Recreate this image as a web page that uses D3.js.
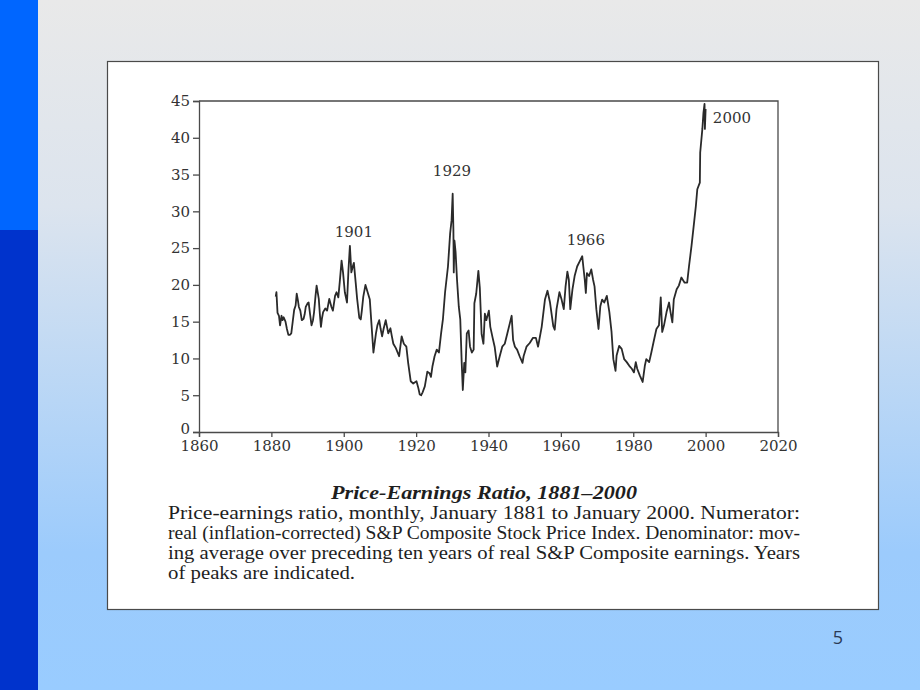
<!DOCTYPE html>
<html>
<head>
<meta charset="utf-8">
<script src="https://cdn.jsdelivr.net/npm/d3@7"></script>
<style>
  html, body { margin: 0; padding: 0; overflow: hidden; }
  svg { display: block; }
</style>
</head>
<body>
<svg id="chart" width="920" height="690"></svg>
<script>
// ---------- data ----------
const years = [
  1881.2,1881.4,1881.7,1882.1,1882.4,1882.8,1883.1,1883.4,1883.9,1884.3,1884.7,1885.1,1885.5,1885.9,
  1886.3,1886.7,1887.0,1887.3,1887.6,1888.0,1888.4,1888.9,1889.2,1889.5,1890.0,1890.3,1890.7,1891.1,
  1891.5,1891.8,1892.2,1892.5,1893.1,1893.4,1893.7,1894.0,1894.3,1894.9,1895.4,1896.0,1896.6,1897.0,
  1897.6,1898.0,1898.5,1898.9,1899.4,1899.8,1900.3,1900.9,1901.3,1901.7,1902.1,1902.5,1902.8,1903.3,
  1903.7,1904.3,1904.7,1905.0,1905.4,1906.0,1906.6,1907.2,1907.7,1908.2,1908.9,1909.3,1909.8,1910.2,
  1910.6,1911.0,1911.6,1912.3,1912.9,1913.3,1913.7,1914.4,1915.3,1916.0,1916.6,1917.3,1917.8,1918.5,
  1919.2,1920.1,1920.6,1921.0,1921.4,1921.8,1922.4,1923.1,1923.7,1924.1,1924.5,1925.1,1925.7,1926.3,
  1926.9,1927.4,1928.0,1928.8,1929.4,1929.8,1930.1,1930.3,1930.4,1930.6,1930.9,1931.3,1931.8,1932.2,
  1932.6,1932.9,1933.3,1933.6,1934.0,1934.5,1934.9,1935.4,1935.9,1936.1,1936.6,1937.2,1937.6,1938.1,
  1938.6,1939.0,1939.4,1940.1,1940.5,1941.1,1941.7,1942.4,1943.1,1943.8,1944.5,1945.2,1945.9,1946.4,
  1946.8,1947.3,1947.9,1948.6,1949.4,1949.7,1950.5,1951.4,1952.3,1953.1,1953.7,1954.7,1955.6,1956.3,
  1957.0,1957.9,1958.3,1958.8,1959.6,1960.2,1960.8,1961.3,1961.8,1962.2,1962.6,1963.2,1963.8,1964.5,
  1965.2,1965.9,1966.2,1966.6,1966.9,1967.2,1967.8,1968.4,1968.9,1969.3,1969.8,1970.4,1970.9,1971.4,
  1972.0,1972.7,1973.4,1974.0,1974.5,1975.1,1975.4,1976.1,1976.8,1977.5,1978.2,1978.9,1979.6,1980.2,
  1980.7,1981.1,1981.8,1982.6,1983.2,1983.6,1984.4,1985.0,1985.6,1986.4,1987.1,1987.6,1988.0,1988.5,
  1989.2,1989.9,1990.3,1990.8,1991.2,1992.0,1992.6,1993.3,1994.2,1994.9,1995.4,1996.1,1996.7,1997.3,
  1997.7,1998.4,1998.5,1999.1,1999.4,1999.7,1999.8,2000.0
];
const peRatio = [
  18.4,19.0,16.2,15.8,14.5,15.8,15.2,15.6,15.0,14.0,13.2,13.2,13.4,15.0,
  16.6,17.2,18.8,18.0,17.0,16.5,15.2,15.4,16.0,17.0,17.5,17.6,16.0,14.5,
  15.2,16.3,18.5,19.9,18.1,16.0,14.3,15.5,16.3,16.8,16.5,18.1,17.0,16.5,
  18.5,19.0,18.3,20.4,23.3,21.7,19.0,17.6,22.0,25.3,21.7,22.5,23.0,20.3,
  18.1,15.5,15.3,16.5,18.4,20.0,19.0,18.0,14.4,10.8,13.4,14.5,15.2,14.0,
  13.0,14.0,15.2,13.4,14.1,13.0,12.0,11.4,10.3,13.0,12.0,11.6,9.4,6.9,
  6.6,6.9,6.0,5.1,5.0,5.4,6.2,8.2,8.0,7.5,8.9,10.3,11.2,10.8,
  13.4,15.3,19.0,22.5,27.0,28.8,32.4,27.5,21.7,26.0,24.5,20.7,17.0,15.3,
  9.4,5.7,9.4,8.1,13.4,13.8,11.6,10.8,11.2,17.5,18.8,21.9,19.6,13.3,
  12.0,16.1,15.2,16.5,14.3,12.9,11.6,8.9,10.3,11.6,12.0,13.4,14.8,15.8,
  12.5,11.6,11.2,10.3,9.4,10.3,11.6,12.1,12.8,12.8,11.6,14.3,18.0,19.2,
  17.6,14.4,13.9,16.7,19.0,18.0,16.7,19.8,21.8,20.7,16.7,19.4,21.2,22.5,
  23.2,23.9,22.5,20.7,18.9,21.6,21.2,22.1,20.7,19.8,16.7,14.0,17.1,18.0,
  17.6,18.5,16.3,13.6,9.9,8.3,10.4,11.7,11.3,9.9,9.5,9.0,8.6,8.1,
  9.5,8.6,7.7,6.8,9.0,9.9,9.5,10.8,12.2,14.0,14.5,18.3,13.6,14.5,
  16.3,17.6,16.3,14.9,18.0,19.4,19.9,21.0,20.3,20.3,22.5,25.3,28.0,30.7,
  33.0,33.9,38.0,41.2,43.4,44.6,41.2,43.9
];
const xTicks = [1860, 1880, 1900, 1920, 1940, 1960, 1980, 2000, 2020];
const yTicks = [0, 5, 10, 15, 20, 25, 30, 35, 40, 45];
const peakLabels = ["1901", "1929", "1966", "2000"];
const peakLabelYears = [1902.8, 1929.9, 1966.9, 2002.0];
const peakLabelValues = [26.5, 34.8, 25.4, 42.0];
const peakLabelAnchor = ["middle", "middle", "middle", "start"];
const captionTitle = "Price-Earnings Ratio, 1881\u20132000";
const captionLines = [
  "Price-earnings ratio, monthly, January 1881 to January 2000. Numerator:",
  "real (inflation-corrected) S&P Composite Stock Price Index. Denominator: mov-",
  "ing average over preceding ten years of real S&P Composite earnings. Years",
  "of peaks are indicated."
];
const pageNumber = "5";

// ---------- drawing ----------
const svg = d3.select("#chart");
const W = 920, H = 690;

const defs = svg.append("defs");
const grad = defs.append("linearGradient").attr("id", "bg").attr("x1", 0).attr("y1", 0).attr("x2", 0).attr("y2", 1);
grad.append("stop").attr("offset", "0%").attr("stop-color", "#e9e9e9");
grad.append("stop").attr("offset", "30%").attr("stop-color", "#dce4ee");
grad.append("stop").attr("offset", "80%").attr("stop-color", "#9ccbfc");
grad.append("stop").attr("offset", "100%").attr("stop-color", "#99ccff");

svg.append("rect").attr("x", 0).attr("y", 0).attr("width", W).attr("height", H).attr("fill", "url(#bg)");
svg.append("rect").attr("x", 0).attr("y", 0).attr("width", 38).attr("height", 230).attr("fill", "#0066ff");
svg.append("rect").attr("x", 0).attr("y", 230).attr("width", 38).attr("height", H - 230).attr("fill", "#0033cc");

// white figure box
svg.append("rect").attr("x", 107.5).attr("y", 61.5).attr("width", 771).attr("height", 548)
  .attr("fill", "#ffffff").attr("stroke", "#4a4a4a").attr("stroke-width", 1.2);

const plot = { left: 199, right: 778, top: 101, bottom: 432 };
const x = d3.scaleLinear().domain([1860, 2020]).range([plot.left, plot.right]);
const y = d3.scaleLinear().domain([0, 45]).range([plot.bottom, plot.top]);

const axisColor = "#4a4a4a";
const tickFont = "'DejaVu Serif', serif";
const tickSize = "15px";

// frame top & right
svg.append("path")
  .attr("d", `M${plot.left},${plot.top}H${plot.right}V${plot.bottom}`)
  .attr("fill", "none").attr("stroke", axisColor).attr("stroke-width", 1.3);

const gx = svg.append("g").attr("transform", `translate(0,${plot.bottom})`)
  .call(d3.axisBottom(x).tickValues(xTicks).tickFormat(d3.format("d")).tickSize(5).tickPadding(2));
const gy = svg.append("g").attr("transform", `translate(${plot.left},0)`)
  .call(d3.axisLeft(y).tickValues(yTicks).tickFormat(d3.format("d")).tickSize(6).tickPadding(3));
[gx, gy].forEach(g => {
  g.select(".domain").attr("stroke", axisColor).attr("stroke-width", 1.3);
  g.selectAll(".tick line").attr("stroke", axisColor).attr("stroke-width", 1.3);
  g.selectAll(".tick text").attr("fill", "#333").style("font-family", tickFont).style("font-size", tickSize);
});
// lift the "0" label slightly so it clears the "1860" label below it
gy.selectAll(".tick").filter(d => d === 0).select("text").attr("dy", "0.12em");
gx.selectAll(".tick text").attr("dy", "0.78em");

// series
const data = years.map((yr, i) => ({ yr, v: peRatio[i] }));
const line = d3.line().x(d => x(d.yr)).y(d => y(d.v)).curve(d3.curveLinear);
svg.append("path").datum(data).attr("d", line)
  .attr("fill", "none").attr("stroke", "#2a2a2a").attr("stroke-width", 1.8).attr("stroke-linejoin", "round");

// peak labels
svg.append("g").selectAll("text").data(peakLabels).join("text")
  .attr("x", (d, i) => x(peakLabelYears[i]))
  .attr("y", (d, i) => y(peakLabelValues[i]))
  .attr("text-anchor", (d, i) => peakLabelAnchor[i])
  .attr("fill", "#333")
  .style("font-family", tickFont).style("font-size", tickSize)
  .text(d => d);

// caption
svg.append("text").attr("x", 331).attr("y", 499)
  .attr("fill", "#1e1e1e")
  .attr("textLength", 306).attr("lengthAdjust", "spacingAndGlyphs")
  .style("font-family", "'Liberation Serif', serif").style("font-size", "19px")
  .style("font-weight", "bold").style("font-style", "italic")
  .text(captionTitle);

const capX = 168, capW = 632, lastW = 187;
svg.append("g").selectAll("text").data(captionLines).join("text")
  .attr("x", capX)
  .attr("y", (d, i) => 519 + i * 20)
  .attr("fill", "#1e1e1e")
  .attr("textLength", (d, i) => i < captionLines.length - 1 ? capW : lastW)
  .attr("lengthAdjust", "spacingAndGlyphs")
  .style("font-family", "'Liberation Serif', serif").style("font-size", "19px")
  .text(d => d);

// page number
svg.append("text").attr("x", 838).attr("y", 644).attr("text-anchor", "middle")
  .attr("fill", "#2b3a55")
  .style("font-family", "'Open Sans', sans-serif").style("font-size", "18px")
  .text(pageNumber);
</script>
</body>
</html>
